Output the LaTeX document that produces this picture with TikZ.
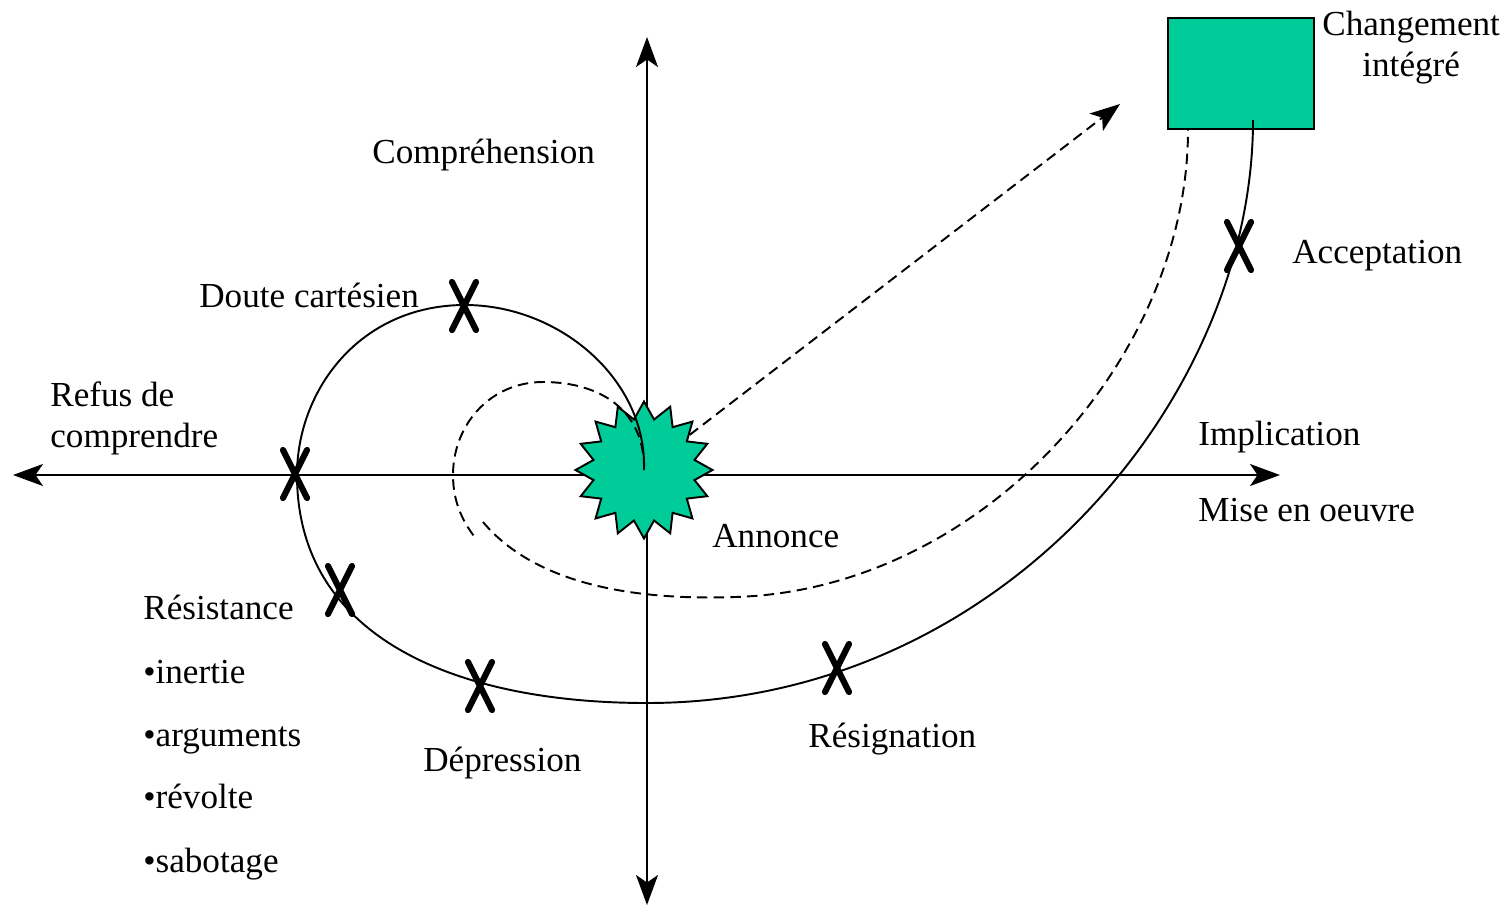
\documentclass[tikz,border=0pt]{standalone}
\usepackage{fontspec}
\setmainfont{Liberation Serif}
\usepackage{xcolor}
\usetikzlibrary{shapes.geometric, arrows.meta, positioning}
\definecolor{vert}{RGB}{0,204,153}

\begin{document}
\begin{tikzpicture}[x=0.02cm, y=-0.02cm,
      font=\fontsize{20}{23}\selectfont,
      >={Stealth[length=0.6cm, width=0.44cm, inset=0.15cm]},
      lbl/.style={inner sep=0pt, anchor=base west},
      axe/.style={<->, line width=1.1pt},
      courbe/.style={line width=1.1pt},
      pointille/.style={line width=1.1pt, dash pattern=on 6pt off 3.5pt},
      croix/.style={line width=3.5pt, line cap=round},
      forme/.style={draw, fill=vert, line width=1.1pt, inner sep=0pt}
    ]
      \useasboundingbox (0,0) rectangle (1510,906);
      % axes
      \coordinate (ouest) at (13,475);
      \coordinate (est) at (1280,475);
      \coordinate (nord) at (647,37);
      \coordinate (sud) at (647,905);
      \draw[axe] (ouest) -- (est);
      \draw[axe] (sud) -- (nord);

      \node[forme, star, star points=16, star point ratio=1.33,
            minimum size=2.74cm] (annonce) at (644,470) {};
      \node[forme, anchor=north west, minimum width=2.92cm,
            minimum height=2.22cm] (boite) at (1167,17) {};
      \coordinate (finA) at (1253,120);
      \coordinate (finB) at (1188,130);
      \coordinate (fleche) at (1120,104);

      % parcours
      \draw[courbe] (annonce.center) .. controls (647,380) and (560,305) .. (465,305)
            .. controls (360,305) and (297,390) .. (297,475)
            .. controls (297,640) and (460,703) .. (647,703)
            .. controls (1000,703) and (1253,400) .. (finA);
      \draw[pointille] (annonce.center) .. controls (645,410) and (600,382) .. (543,382)
            .. controls (490,382) and (453,425) .. (453,475)
            .. controls (453,505) and (465,525) .. (477,540);
      \draw[pointille] (483,522) .. controls (540,590) and (650,600) .. (735,597)
            .. controls (980,590) and (1188,360) .. (finB);
      \draw[pointille, ->] (annonce) -- (fleche);

      % croix
      \foreach \px/\py in {464/306, 295/474, 340/590, 480/686, 837/668, 1239/246}
        \draw[croix] (\px-12,\py-24) -- (\px+12,\py+24)
                     (\px+12,\py-24) -- (\px-12,\py+24);

      % textes
      \node[lbl] (comp) at (372,163) {Compréhension};
      \node[lbl] (doute) at (199,307) {Doute cartésien};
      \node[lbl, align=left] (refus) at (50,447) {Refus de\\comprendre};
      \node[lbl] (impl) at (1198,445) {Implication};
      \node[lbl] (mise) at (1198,521) {Mise en oeuvre};
      \node[lbl] (txtannonce) at (712,547) {Annonce};
      \node[lbl] (accept) at (1292,263) {Acceptation};
      \node[lbl, align=center] (chg) at (1322,76) {Changement\\intégré};
      \node[lbl] (resist) at (143,619) {Résistance};
      \node[lbl] (inertie) at (143,683) {•inertie};
      \node[lbl] (arguments) at (143,746) {•arguments};
      \node[lbl] (revolte) at (143,808) {•révolte};
      \node[lbl] (sabotage) at (143,872) {•sabotage};
      \node[lbl] (depr) at (423,771) {Dépression};
      \node[lbl] (resign) at (808,747) {Résignation};
    \end{tikzpicture}
\end{document}
